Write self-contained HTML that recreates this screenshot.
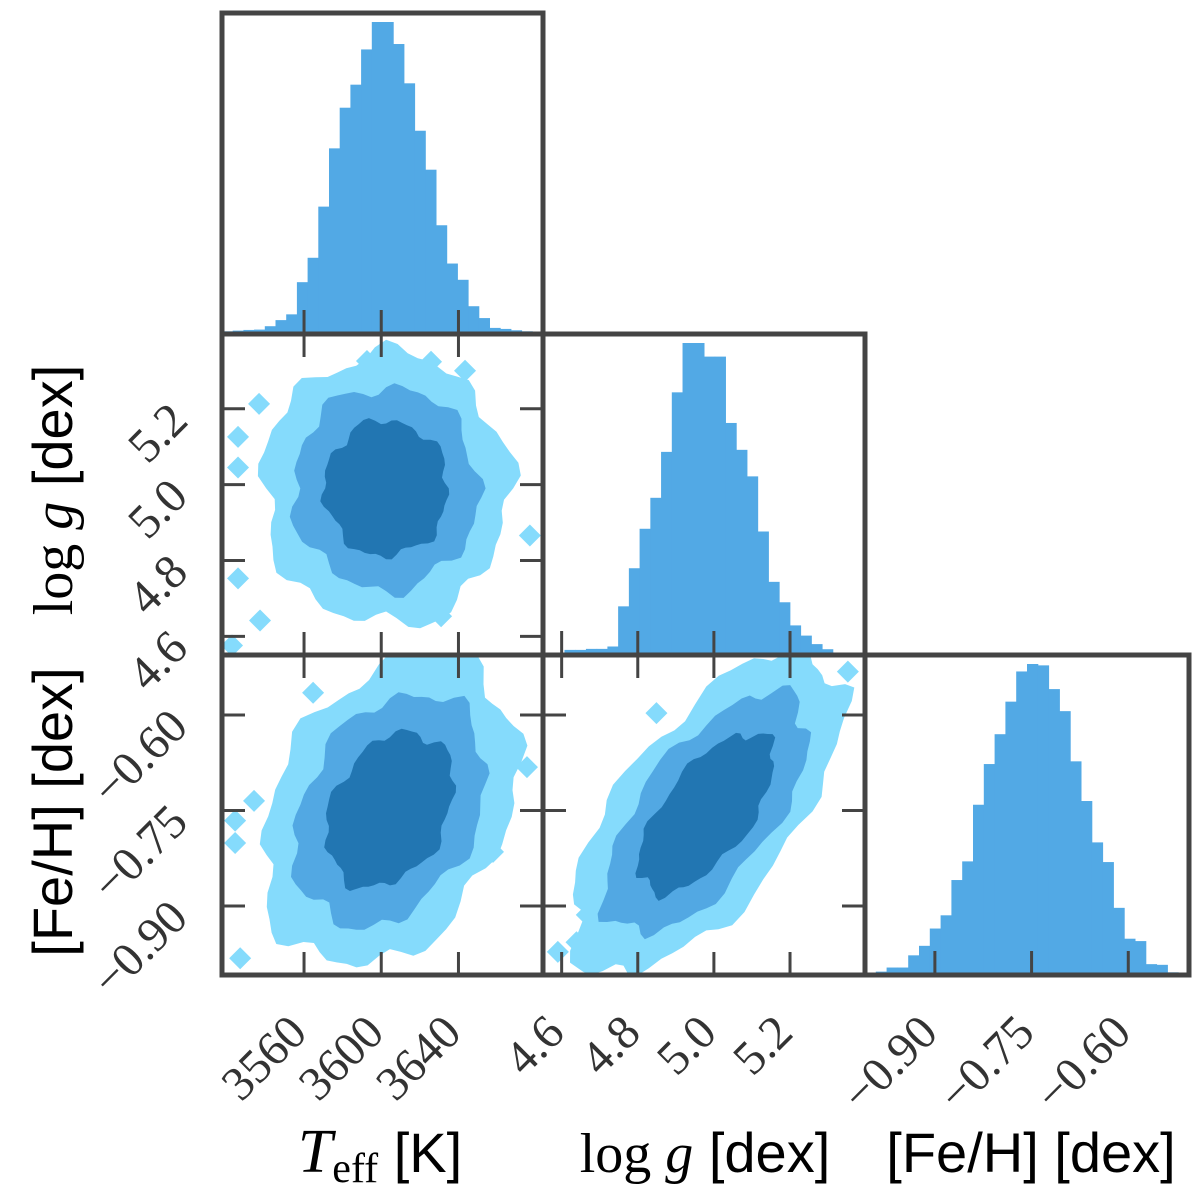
<!DOCTYPE html>
<html><head><meta charset="utf-8"><style>
html,body{margin:0;padding:0;background:#fff;}
svg{display:block;}
</style></head><body>
<svg id="chart" width="1200" height="1194" viewBox="0 0 1200 1194" xmlns="http://www.w3.org/2000/svg"></svg>
<script>
// ---- data ----
const paramNames = ["teff", "logg", "feh"];
const rangeLo = [3517.5, 4.551, -1.0084];
const rangeHi = [3683.8, 5.397, -0.5058];
const teffTicks = [3560, 3600, 3640];
const teffTickLabels = ["3560", "3600", "3640"];
const loggTicks = [4.6, 4.8, 5.0, 5.2];
const loggTickLabels = ["4.6", "4.8", "5.0", "5.2"];
const fehTicks = [-0.90, -0.75, -0.60];
const fehTickLabels = ["\u22120.90", "\u22120.75", "\u22120.60"];
const teffHist = [8,10,12,13,23,41,58,153,225,376,548,668,736,840,921,921,856,740,600,485,321,208,160,82,47,18,15,11,8,5];
const loggHist = [7,5,15,15,18,18,25,143,255,371,462,597,772,917,917,877,877,682,603,525,363,215,155,87,57,32,17,7,7,3];
const fehHist = [5,10,22,22,58,86,137,176,280,335,502,622,710,806,895,917,913,843,778,630,513,391,333,198,107,100,32,30,8,4];
// 2D posteriors: [meanX, meanY, sdX, sdY, rho]
const gaussTeffLogg = [3602.5, 4.99, 32, 0.179, 0.0];
const gaussTeffFeh = [3604.5, -0.749, 33, 0.122, 0.3];
const gaussLoggFeh = [4.98, -0.754, 0.178, 0.126, 0.65];
const contourLevels = [2.0, 1.5, 1.0];
const outliersTeffLogg = [[3536.7,5.213],[3525.8,5.126],[3525.8,5.045],[3592.6,5.326],[3625.8,5.324],[3643.4,5.300],[3677.0,4.866],[3626.8,4.716],[3631.0,4.653],[3537.2,4.642],[3522.7,4.576],[3525.8,4.753]];
const outliersTeffFeh = [[3564.7,-0.565],[3534.1,-0.735],[3524.3,-0.766],[3524.3,-0.801],[3526.9,-0.982],[3657.9,-0.619],[3675.5,-0.682],[3657.9,-0.815]];
const outliersLoggFeh = [[4.849,-0.597],[4.666,-0.914],[4.639,-0.957],[4.590,-0.972],[5.352,-0.532],[5.300,-0.611],[5.127,-0.831]];

// ---- layout ----
const NS = "http://www.w3.org/2000/svg";
const svg = document.getElementById("chart");
const colEdges = [222, 543, 865, 1189];
const rowEdges = [13, 334, 655, 975];
const histColor = "#52a9e5";
const levelColors = ["#85dbfc", "#52a8e3", "#2276b2"];
const axisColor = "#444444";
const ticksByParam = [teffTicks, loggTicks, fehTicks];
const labelsByParam = [teffTickLabels, loggTickLabels, fehTickLabels];

function mk(tag, attrs, parent) {
  const e = document.createElementNS(NS, tag);
  for (const k in attrs) e.setAttribute(k, attrs[k]);
  (parent || svg).appendChild(e);
  return e;
}
function xScale(p, v) { return colEdges[p] + (v - rangeLo[p]) / (rangeHi[p] - rangeLo[p]) * (colEdges[p+1] - colEdges[p]); }
function yScale(p, v) { return rowEdges[p+1] - (v - rangeLo[p]) / (rangeHi[p] - rangeLo[p]) * (rowEdges[p+1] - rowEdges[p]); }

const defs = mk("defs", {});
let clipId = 0;
function panelClip(col, row) {
  const cp = mk("clipPath", {id: "clip" + clipId}, defs);
  mk("rect", {x: colEdges[col], y: rowEdges[row], width: colEdges[col+1]-colEdges[col], height: rowEdges[row+1]-rowEdges[row]}, cp);
  return "url(#clip" + (clipId++) + ")";
}

function drawHist(p, counts) {
  const g = mk("g", {"clip-path": panelClip(p, p)});
  
  
  const maxC = Math.max(...counts);
  const top = rowEdges[p] + 9, base = rowEdges[p+1];
  const w = (rangeHi[p] - rangeLo[p]) / counts.length;
  counts.forEach((c, i) => {
    const x0 = xScale(p, rangeLo[p] + i*w), x1 = xScale(p, rangeLo[p] + (i+1)*w);
    const h = c / maxC * (base - top);
    const r = mk("rect", {x: x0, y: base - h, width: x1 - x0 + 0.5, height: h, fill: histColor}, g);
    
    
  });
  ticksByParam[p].forEach(t => {
    const x = xScale(p, t);
    const l = mk("line", {x1: x, x2: x, y1: base, y2: base - 24, stroke: axisColor, "stroke-width": 3});
    
    
  });
}

function drawContour(px, py, gauss, outliers) {
  const g = mk("g", {"clip-path": panelClip(px, py)});
  
  
  const [mx, my, sx, sy, rho] = gauss;
  const k = Math.sqrt(1 - rho*rho);
  contourLevels.forEach((L, li) => {
    const pts = [];
    const N = 72;
    for (let i = 0; i < N; i++) {
      const th = i / N * 2 * Math.PI;
      const wob = 1 + 0.05*Math.sin(9*th + li*1.3 + px) + 0.035*Math.sin(5*th + 2*li + py) + 0.025*Math.sin(17*th + li);
      const u = L * wob * Math.cos(th), v = L * wob * Math.sin(th);
      const dx = mx + sx*u, dy = my + sy*(rho*u + k*v);
      pts.push(xScale(px, dx).toFixed(1) + "," + yScale(py, dy).toFixed(1));
    }
    const poly = mk("polygon", {points: pts.join(" "), fill: levelColors[li]}, g);
    
    
  });
  outliers.forEach(o => {
    const cx = xScale(px, o[0]), cy = yScale(py, o[1]);
    const d = mk("polygon", {points: `${cx},${cy-11} ${cx+11},${cy} ${cx},${cy+11} ${cx-11},${cy}`, fill: levelColors[0]}, g);
    
    
  });
  ticksByParam[px].forEach(t => {
    const x = xScale(px, t);
    mk("line", {x1: x, x2: x, y1: rowEdges[py+1], y2: rowEdges[py+1]-23, stroke: axisColor, "stroke-width": 3});
    mk("line", {x1: x, x2: x, y1: rowEdges[py], y2: rowEdges[py]+23, stroke: axisColor, "stroke-width": 3});
  });
  ticksByParam[py].forEach(t => {
    const y = yScale(py, t);
    mk("line", {x1: colEdges[px], x2: colEdges[px]+23, y1: y, y2: y, stroke: axisColor, "stroke-width": 3});
    mk("line", {x1: colEdges[px+1], x2: colEdges[px+1]-23, y1: y, y2: y, stroke: axisColor, "stroke-width": 3});
  });
}

drawHist(0, teffHist);
drawHist(1, loggHist);
drawHist(2, fehHist);
drawContour(0, 1, gaussTeffLogg, outliersTeffLogg);
drawContour(0, 2, gaussTeffFeh, outliersTeffFeh);
drawContour(1, 2, gaussLoggFeh, outliersLoggFeh);

for (let r = 0; r < 3; r++) for (let c = 0; c <= r; c++) {
  const f = mk("rect", {x: colEdges[c], y: rowEdges[r], width: colEdges[c+1]-colEdges[c], height: rowEdges[r+1]-rowEdges[r], fill: "none", stroke: axisColor, "stroke-width": 5});
  
  
}

const tickFont = '"Liberation Serif", "DejaVu Serif", serif';
for (let p = 0; p < 3; p++) {
  ticksByParam[p].forEach((t, i) => {
    const x = xScale(p, t) + 5, y = 1035;
    const tx = mk("text", {"text-anchor": "end", transform: `translate(${x},${y}) rotate(-45)`, "font-family": tickFont, "font-size": 48, fill: "#333"});
    tx.textContent = labelsByParam[p][i];
    
    
  });
}
for (let p = 1; p < 3; p++) {
  ticksByParam[p].forEach((t, i) => {
    const y = yScale(p, t) + 14;
    const tx = mk("text", {"text-anchor": "end", transform: `translate(190,${y}) rotate(-45)`, "font-family": tickFont, "font-size": 48, fill: "#333"});
    tx.textContent = labelsByParam[p][i];
    
    
  });
}
</script>
<svg style="position:absolute;left:0;top:0" width="1200" height="1194" viewBox="0 0 1200 1194" xmlns="http://www.w3.org/2000/svg">
  <text x="380" y="1172" text-anchor="middle" font-size="56" fill="#000"><tspan font-family="Liberation Serif, serif" font-style="italic" font-size="62">T</tspan><tspan font-family="Liberation Serif, serif" font-size="42" dy="10">eff</tspan><tspan font-family="Liberation Sans, sans-serif" dy="-10">  [K]</tspan></text>
  <text x="705" y="1172" text-anchor="middle" font-size="56" fill="#000"><tspan font-family="Liberation Serif, serif">log </tspan><tspan font-family="Liberation Serif, serif" font-style="italic">g</tspan><tspan font-family="Liberation Sans, sans-serif">  [dex]</tspan></text>
  <text x="1031" y="1172" text-anchor="middle" font-family="Liberation Sans, sans-serif" font-size="56" fill="#000">[Fe/H] [dex]</text>
  <text transform="translate(72,490) rotate(-90)" text-anchor="middle" font-size="56" fill="#000"><tspan font-family="Liberation Serif, serif">log </tspan><tspan font-family="Liberation Serif, serif" font-style="italic">g</tspan><tspan font-family="Liberation Sans, sans-serif">  [dex]</tspan></text>
  <text transform="translate(72,812) rotate(-90)" text-anchor="middle" font-family="Liberation Sans, sans-serif" font-size="56" fill="#000">[Fe/H] [dex]</text>
</svg>
</body></html>
